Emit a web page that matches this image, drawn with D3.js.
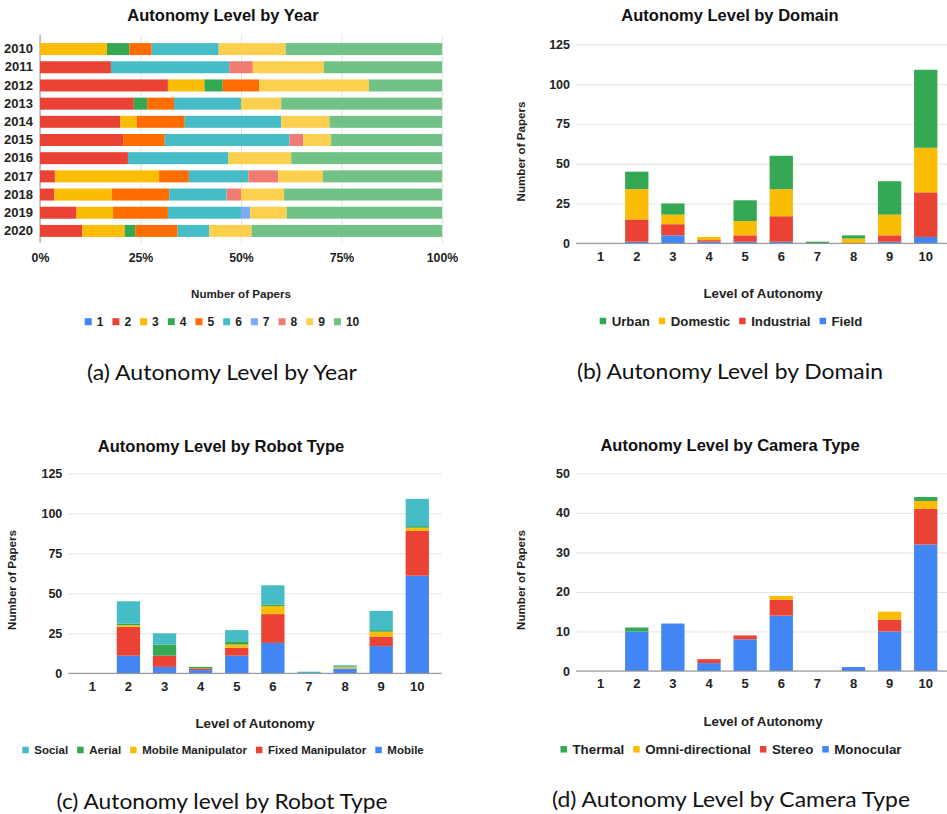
<!DOCTYPE html>
<html><head><meta charset="utf-8">
<script src="https://cdn.jsdelivr.net/npm/d3@7"></script>
<style>
body{margin:0;background:#fff}
svg{display:block}
text{font-family:"Liberation Sans",Arial,sans-serif;fill:#222}
.cap{font-family:Lato,"Open Sans",sans-serif;fill:#111}
</style>
</head><body>
<svg id="c" width="947" height="814"></svg>
<script>
// ---------- DATA ----------
const years = ["2010","2011","2012","2013","2014","2015","2016","2017","2018","2019","2020"];
const autonomyLevels = ["1","2","3","4","5","6","7","8","9","10"];
// papers per year for each autonomy level (panel a)
const level1  = [0,0,0,0,0,0,0,0,0,0,0];
const level2  = [0,3,7,7,5,6,7,1,1,4,4];
const level3  = [3,0,2,0,1,0,0,7,4,4,4];
const level4  = [1,0,1,1,0,0,0,0,0,0,1];
const level5  = [1,0,2,2,3,3,0,2,4,6,4];
const level6  = [3,5,0,5,6,9,8,4,4,8,3];
const level7  = [0,0,0,0,0,0,0,0,0,1,0];
const level8  = [0,1,0,0,0,1,0,2,1,0,0];
const level9  = [3,3,6,3,3,2,5,3,3,4,4];
const level10 = [7,5,4,12,7,8,12,8,11,17,18];
const percentTicks = [0,0.25,0.5,0.75,1];

// panel b: by domain (per autonomy level 1..10)
const domainField      = [0,1,5,1,1,1,0,0,1,4];
const domainIndustrial = [0,14,7,1,4,16,0,0,4,28];
const domainDomestic   = [0,19,6,2,9,17,0,3,13,28];
const domainUrban      = [0,11,7,0,13,21,1,2,21,49];

// panel c: by robot type
const robotMobile     = [0,11,4,2,11,19,0,3,17,61];
const robotFixed      = [0,18,7,1,5,18,0,0,6,28];
const robotMobileManip= [0,1,0,0,2,5,0,1,3,2];
const robotAerial     = [0,1,7,1,2,1,0,0,1,1];
const robotSocial     = [0,14,7,0,7,12,1,1,12,17];

// panel d: by camera type
const camMonocular = [0,10,12,2,8,14,0,1,10,32];
const camStereo    = [0,0,0,1,1,4,0,0,3,9];
const camOmni      = [0,0,0,0,0,1,0,0,2,2];
const camThermal   = [0,1,0,0,0,0,0,0,0,1];

const countTicks125 = [0,25,50,75,100,125];
const countTicks50  = [0,10,20,30,40,50];

// ---------- STYLE ----------
const levelColors = ["#4285F4","#EA4335","#FBBC04","#34A853","#FF6D01","#46BDC6","#7BAAF7","#F07B72","#FCD04F","#71C287"];
const cBlue="#4285F4", cRed="#EA4335", cYellow="#FBBC04", cGreen="#34A853", cTeal="#46BDC6";
const gridColor="#e3e3e3", baseColor="#8a8a8a";

const svg = d3.select("#c");

function legend(items, cx, cy, fs, sq, gapText, gapItem){
  const g = svg.append("g");
  let x = 0;
  items.forEach(it=>{
    g.append("rect").attr("x",x).attr("y",cy-sq/2).attr("width",sq).attr("height",sq).attr("fill",it.color);
    const t = g.append("text").attr("x",x+sq+gapText).attr("y",cy).attr("dominant-baseline","central")
      .attr("font-size",fs).attr("font-weight","bold").text(it.label);
    x += sq+gapText+t.node().getComputedTextLength()+gapItem;
  });
  x -= gapItem;
  g.attr("transform",`translate(${cx - x/2},0)`);
}
function label(txt,x,y,fs,opts={}){
  const t = svg.append("text").attr("x",x).attr("y",y).attr("text-anchor","middle")
    .attr("dominant-baseline","central").attr("font-size",fs).text(txt);
  if(opts.bold!==false) t.attr("font-weight","bold");
  if(opts.fill) t.style("fill",opts.fill);
  if(opts.rotate) t.attr("transform",`rotate(-90,${x},${y})`);
  if(opts.cls) t.attr("class",opts.cls);
  if(opts.len) t.attr("textLength",opts.len).attr("lengthAdjust","spacingAndGlyphs");
  return t;
}

// ---------- PANEL A ----------
(function(){
  const series = [level1,level2,level3,level4,level5,level6,level7,level8,level9,level10];
  const rows = years.map((yr,i)=>{const r={year:yr}; autonomyLevels.forEach((l,j)=>r[l]=series[j][i]); return r;});
  const stack = d3.stack().keys(autonomyLevels).offset(d3.stackOffsetExpand)(rows);
  const x = d3.scaleLinear().domain([0,1]).range([40,442]);
  const y = d3.scaleBand().domain(years).range([40,240]).paddingInner(0.34).paddingOuter(0.17);
  const top=35, bot=243;
  const ax = svg.append("g").attr("transform",`translate(0,${bot})`)
    .call(d3.axisBottom(x).tickValues(percentTicks).tickFormat(d3.format(".0%")).tickSize(-(bot-top)).tickPadding(10.5));
  ax.select(".domain").remove();
  ax.selectAll(".tick line").attr("stroke",gridColor);
  ax.selectAll("text").attr("font-size",12.3).attr("font-weight","bold").style("fill","#222").attr("font-family",null);
  svg.append("line").attr("x1",x(0)).attr("x2",x(0)).attr("y1",top).attr("y2",bot).attr("stroke","#999");
  svg.append("g").selectAll("g").data(stack).join("g").attr("fill",(d,i)=>levelColors[i])
    .selectAll("rect").data(d=>d).join("rect")
    .attr("x",d=>x(d[0])).attr("width",d=>x(d[1])-x(d[0]))
    .attr("y",d=>y(d.data.year)).attr("height",y.bandwidth());
  const ay = svg.append("g").attr("transform",`translate(${x(0)},0)`).call(d3.axisLeft(y).tickSize(0).tickPadding(7));
  ay.select(".domain").remove();
  ay.selectAll("text").attr("font-size",13).attr("font-weight","bold").style("fill","#222").attr("font-family",null);
  label("Autonomy Level by Year",223,15,16.5,{fill:"#111"});
  label("Number of Papers",241,293,11.6);
  legend(autonomyLevels.map((l,i)=>({label:l,color:levelColors[i]})),222,321.7,12,7,5,9);
  label("(a) Autonomy Level by Year",222,371.7,22,{bold:false,cls:"cap",len:270});
})();

// ---------- VERTICAL STACKED PANELS ----------
function vpanel(cfg){
  const rows = autonomyLevels.map((l,i)=>{const r={level:l}; cfg.keys.forEach((k,j)=>r[k]=cfg.series[j][i]); return r;});
  const stack = d3.stack().keys(cfg.keys)(rows);
  const x = d3.scaleBand().domain(autonomyLevels).range(cfg.band).paddingInner(0.355).paddingOuter(0.1775);
  const y = d3.scaleLinear().domain(cfg.ydom).range([cfg.y0,cfg.y1]);
  const ay = svg.append("g").attr("transform",`translate(${cfg.gx0},0)`)
    .call(d3.axisLeft(y).tickValues(cfg.ticks).tickSize(-(cfg.gx1-cfg.gx0)).tickPadding(6));
  ay.select(".domain").remove();
  ay.selectAll(".tick line").attr("stroke",gridColor);
  ay.selectAll("text").attr("font-size",12.5).attr("font-weight","bold").style("fill","#222").attr("font-family",null);
  svg.append("g").selectAll("g").data(stack).join("g").attr("fill",(d,i)=>cfg.colors[i])
    .selectAll("rect").data(d=>d.filter(v=>v[1]>v[0])).join("rect")
    .attr("x",d=>x(d.data.level)).attr("width",x.bandwidth())
    .attr("y",d=>y(d[1])).attr("height",d=>y(d[0])-y(d[1]));
  svg.append("line").attr("x1",cfg.gx0).attr("x2",cfg.gx1).attr("y1",y(0)).attr("y2",y(0)).attr("stroke",baseColor);
  const ax = svg.append("g").attr("transform",`translate(0,${y(0)})`)
    .call(d3.axisBottom(x).tickSize(0).tickPadding(cfg.xpad));
  ax.select(".domain").remove();
  ax.selectAll("text").attr("font-size",13).attr("font-weight","bold").style("fill","#222").attr("font-family",null);
  label(cfg.title,cfg.tcx,cfg.ty,16.5,{fill:"#111"});
  label("Number of Papers",cfg.ytx,cfg.yty,11.6,{rotate:true});
  label("Level of Autonomy",cfg.xtx,cfg.xty,13.3);
  legend(cfg.legend,cfg.lcx,cfg.ly,cfg.lfs,6.5,5.5,9);
  label(cfg.caption,cfg.ccx,cfg.cy,22,{bold:false,cls:"cap",len:cfg.clen});
}

vpanel({keys:["Field","Industrial","Domestic","Urban"],
  series:[domainField,domainIndustrial,domainDomestic,domainUrban],
  colors:[cBlue,cRed,cYellow,cGreen],
  band:[582.6,943.8], ydom:[0,125], y0:243.3, y1:44.3, ticks:countTicks125, gx0:576, gx1:947, xpad:8,
  title:"Autonomy Level by Domain", tcx:730, ty:15, ytx:520, yty:151.5, xtx:763, xty:293.3,
  legend:[{label:"Urban",color:cGreen},{label:"Domestic",color:cYellow},{label:"Industrial",color:cRed},{label:"Field",color:cBlue}],
  lcx:731, ly:321, lfs:13.2, caption:"(b) Autonomy Level by Domain", ccx:730, cy:370, clen:306});

vpanel({keys:["Mobile","Fixed Manipulator","Mobile Manipulator","Aerial","Social"],
  series:[robotMobile,robotFixed,robotMobileManip,robotAerial,robotSocial],
  colors:[cBlue,cRed,cYellow,cGreen,cTeal],
  band:[74.25,435.35], ydom:[0,125], y0:673.3, y1:473.3, ticks:countTicks125, gx0:68.3, gx1:441.7, xpad:8,
  title:"Autonomy Level by Robot Type", tcx:221, ty:445.7, ytx:11.7, yty:580, xtx:255, xty:723.3,
  legend:[{label:"Social",color:cTeal},{label:"Aerial",color:cGreen},{label:"Mobile Manipulator",color:cYellow},{label:"Fixed Manipulator",color:cRed},{label:"Mobile",color:cBlue}],
  lcx:223, ly:750, lfs:11.5, caption:"(c) Autonomy level by Robot Type", ccx:222, cy:800, clen:331});

vpanel({keys:["Monocular","Stereo","Omni-directional","Thermal"],
  series:[camMonocular,camStereo,camOmni,camThermal],
  colors:[cBlue,cRed,cYellow,cGreen],
  band:[582.6,943.8], ydom:[0,50], y0:671, y1:473.3, ticks:countTicks50, gx0:576, gx1:947, xpad:8,
  title:"Autonomy Level by Camera Type", tcx:730, ty:445, ytx:520, yty:580, xtx:763, xty:721.7,
  legend:[{label:"Thermal",color:cGreen},{label:"Omni-directional",color:cYellow},{label:"Stereo",color:cRed},{label:"Monocular",color:cBlue}],
  lcx:731, ly:749.3, lfs:13.3, caption:"(d) Autonomy Level by Camera Type", ccx:731, cy:798, clen:358});
</script>
</body></html>
